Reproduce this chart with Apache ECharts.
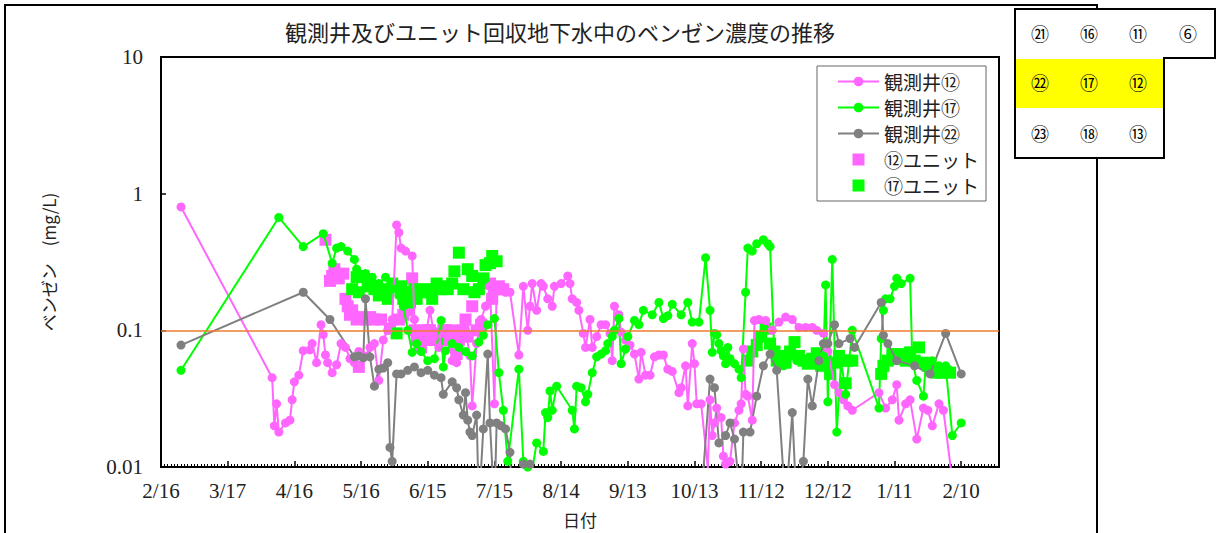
<!DOCTYPE html>
<html><head><meta charset="utf-8">
<script src="https://cdn.jsdelivr.net/npm/echarts@6/dist/echarts.min.js"></script>
<style>html,body{margin:0;padding:0;background:#fff}#c{width:1221px;height:533px}</style>
</head><body><div id="c"></div>
<script>
// ---------- data ----------
const titleText = '観測井及びユニット回収地下水中のベンゼン濃度の推移';
const xTickLabels = ['2/16','3/17','4/16','5/16','6/15','7/15','8/14','9/13','10/13','11/12','12/12','1/11','2/10'];
const yTickLabels = ['0.01','0.1','1','10'];
const seriesNames = ['観測井⑫','観測井⑰','観測井㉒','⑫ユニット','⑰ユニット'];

const w12Dates = ['2/25','4/6','4/7','4/8','4/9','4/12','4/14','4/15','4/16','4/18','4/20','4/23','4/24','4/26','4/28','4/29','4/30','5/1','5/3','5/5','5/7','5/9','5/11','5/13','5/15','5/18','5/20','5/22','5/24','5/26','5/28','5/30','6/1','6/2','6/3','6/5','6/8','6/9','6/10','6/12','6/14','6/16','6/18','6/20','6/22','6/24','6/26','6/28','6/30','7/2','7/4','7/5','7/7','7/9','7/11','7/13','7/15','7/16','7/18','7/20','7/22','7/26','7/28','7/30','7/31','8/1','8/3','8/5','8/6','8/8','8/10','8/11','8/14','8/17','8/18','8/19','8/21','8/22','8/24','8/25','8/27','8/28','8/30','9/1','9/3','9/5','9/6','9/7','9/9','9/10','9/12','9/14','9/16','9/18','9/19','9/21','9/23','9/25','9/27','9/29','10/1','10/3','10/6','10/7','10/9','10/10','10/12','10/13','10/14','10/16','10/19','10/20','10/21','10/22','10/23','10/25','10/26','10/27','10/29','10/31','11/2','11/3','11/4','11/5','11/6','11/8','11/9','11/11','11/14','11/17','11/20','11/23','11/26','11/29','12/2','12/5','12/7','12/10','12/12','12/15','12/17','12/19','12/21','12/23','1/4','1/7','1/10','1/12','1/13','1/16','1/18','1/21','1/24','1/26','1/28','1/31','2/2','2/6'];
const w12Vals = [0.80,0.045,0.020,0.029,0.018,0.021,0.022,0.031,0.042,0.047,0.071,0.072,0.080,0.058,0.11,0.093,0.066,0.058,0.049,0.056,0.080,0.075,0.062,0.058,0.07,0.065,0.075,0.08,0.043,0.085,0.1,0.12,0.59,0.52,0.40,0.38,0.35,0.12,0.085,0.1,0.09,0.14,0.09,0.075,0.095,0.1,0.06,0.058,0.085,0.1,0.065,0.028,0.08,0.12,0.15,0.21,0.029,0.2,0.21,0.19,0.19,0.066,0.21,0.1,0.15,0.22,0.14,0.22,0.21,0.17,0.15,0.21,0.22,0.25,0.22,0.17,0.16,0.14,0.095,0.075,0.12,0.075,0.09,0.11,0.11,0.095,0.06,0.15,0.13,0.097,0.085,0.078,0.067,0.044,0.069,0.047,0.047,0.064,0.066,0.066,0.052,0.05,0.035,0.038,0.055,0.028,0.08,0.057,0.029,0.029,0.0098,0.031,0.017,0.021,0.027,0.023,0.012,0.0105,0.011,0.021,0.026,0.029,0.073,0.034,0.033,0.022,0.118,0.12,0.118,0.1,0.115,0.125,0.12,0.105,0.105,0.105,0.1,0.095,0.07,0.04,0.035,0.031,0.028,0.026,0.035,0.027,0.031,0.04,0.022,0.029,0.031,0.016,0.027,0.026,0.02,0.029,0.026,0.008];

const w17Dates = ['2/25','4/9','4/20','4/29','5/3','5/5','5/7','5/10','5/13','5/14','5/18','5/21','5/24','5/27','5/30','6/2','6/4','6/6','6/8','6/10','6/12','6/15','6/18','6/21','6/22','6/23','6/26','6/29','7/2','7/5','7/8','7/10','7/12','7/15','7/17','7/19','7/21','7/26','7/28','7/30','8/1','8/3','8/6','8/7','8/8','8/9','8/10','8/12','8/19','8/20','8/21','8/23','8/25','8/26','8/28','8/30','9/1','9/3','9/4','9/6','9/7','9/9','9/10','9/12','9/13','9/16','9/18','9/20','9/24','9/27','9/29','10/1','10/3','10/7','10/10','10/12','10/15','10/18','10/20','10/21','10/22','10/23','10/24','10/25','10/26','10/27','10/28','10/29','10/31','11/2','11/3','11/5','11/6','11/8','11/10','11/13','11/15','11/16','11/18','11/20','11/22','11/25','11/28','12/1','12/4','12/7','12/10','12/11','12/12','12/14','12/16','12/18','12/20','12/23','1/4','1/5','1/6','1/7','1/9','1/11','1/12','1/14','1/18','1/19','1/21','1/24','1/25','1/28','1/31','2/3','2/6','2/10'];
const w17Vals = [0.051,0.67,0.41,0.51,0.31,0.40,0.41,0.38,0.33,0.28,0.26,0.245,0.22,0.245,0.2,0.18,0.15,0.1,0.069,0.08,0.07,0.06,0.062,0.118,0.054,0.071,0.08,0.075,0.07,0.065,0.082,0.092,0.11,0.122,0.049,0.026,0.011,0.052,0.011,0.01,0.0095,0.015,0.013,0.025,0.023,0.036,0.026,0.039,0.026,0.019,0.039,0.038,0.03,0.034,0.049,0.064,0.067,0.071,0.08,0.09,0.1,0.122,0.057,0.073,0.09,0.118,0.11,0.14,0.13,0.16,0.122,0.128,0.155,0.13,0.16,0.115,0.115,0.34,0.14,0.069,0.095,0.093,0.08,0.071,0.065,0.057,0.075,0.062,0.057,0.052,0.045,0.19,0.40,0.38,0.43,0.46,0.43,0.41,0.065,0.06,0.055,0.065,0.06,0.058,0.06,0.055,0.065,0.215,0.03,0.33,0.018,0.06,0.034,0.1,0.027,0.087,0.14,0.17,0.17,0.21,0.24,0.22,0.24,0.06,0.043,0.033,0.054,0.06,0.055,0.055,0.017,0.021];

const w22Dates = ['2/25','4/20','5/2','5/13','5/15','5/17','5/18','5/20','5/22','5/24','5/26','5/28','5/29','5/30','6/1','6/3','6/6','6/9','6/12','6/15','6/18','6/21','6/22','6/26','6/28','6/29','7/1','7/2','7/3','7/4','7/5','7/7','7/8','7/10','7/12','7/13','7/15','7/16','7/18','7/20','7/22','7/23','7/28','7/31','8/3','10/14','10/20','10/22','10/24','10/27','10/29','10/31','11/3','11/4','11/7','11/10','11/13','11/16','11/19','11/23','11/26','11/28','12/1','12/3','12/5','12/8','12/10','12/12','12/15','12/17','12/22','12/24','1/5','1/6','1/8','1/12','1/20','1/27','2/3','2/10'];
const w22Vals = [0.078,0.19,0.12,0.064,0.065,0.063,0.17,0.064,0.039,0.052,0.053,0.058,0.0139,0.011,0.048,0.048,0.051,0.054,0.049,0.051,0.047,0.045,0.034,0.042,0.038,0.031,0.024,0.035,0.022,0.018,0.017,0.024,0.005,0.019,0.067,0.021,0.005,0.021,0.02,0.019,0.0128,0.005,0.0105,0.0105,0.002,0.002,0.044,0.038,0.015,0.017,0.021,0.016,0.005,0.018,0.018,0.033,0.055,0.067,0.051,0.005,0.025,0.005,0.011,0.044,0.028,0.06,0.08,0.08,0.11,0.08,0.087,0.075,0.16,0.092,0.08,0.06,0.055,0.048,0.095,0.048];

const u12Dates = ['4/30','5/2','5/3','5/4','5/6','5/8','5/9','5/10','5/11','5/12','5/14','5/15','5/16','5/18','5/20','5/22','5/25','5/29','6/2','6/4','6/6','6/8','6/9','6/10','6/11','6/12','6/13','6/14','6/15','6/16','6/17','6/18','6/19','6/20','6/21','6/22','6/23','6/24','6/25','6/26','6/28','6/29','7/1','7/2','7/3','7/5','7/7','7/9','7/13','7/14','7/15','7/17','7/19'];
const u12Vals = [0.46,0.23,0.25,0.28,0.24,0.26,0.17,0.15,0.13,0.14,0.12,0.054,0.125,0.12,0.125,0.12,0.12,0.103,0.12,0.13,0.14,0.24,0.1,0.085,0.095,0.075,0.09,0.1,0.1,0.1,0.085,0.09,0.095,0.085,0.09,0.1,0.1,0.085,0.09,0.1,0.067,0.085,0.1,0.12,0.09,0.15,0.1,0.11,0.22,0.17,0.2,0.21,0.2];

const u17Dates = ['5/12','5/14','5/15','5/17','5/19','5/20','5/22','5/24','5/27','5/28','5/30','6/1','6/3','6/4','6/6','6/7','6/9','6/10','6/12','6/14','6/16','6/17','6/19','6/21','6/22','6/24','6/26','6/27','6/29','7/1','7/3','7/5','7/6','7/8','7/10','7/11','7/13','7/14','7/16','11/6','11/8','11/10','11/12','11/14','11/16','11/18','11/19','11/21','11/23','11/25','11/27','11/29','12/1','12/3','12/5','12/7','12/9','12/11','12/13','12/15','12/17','12/19','12/20','12/21','12/23','1/5','1/6','1/8','1/10','1/12','1/14','1/16','1/18','1/20','1/22','1/24','1/26','1/28','1/30','2/1','2/3','2/5'];
const u17Vals = [0.2,0.245,0.19,0.25,0.22,0.21,0.2,0.18,0.2,0.17,0.22,0.095,0.21,0.17,0.19,0.16,0.2,0.17,0.19,0.2,0.19,0.17,0.22,0.2,0.21,0.2,0.22,0.27,0.37,0.2,0.28,0.25,0.19,0.2,0.24,0.3,0.31,0.35,0.32,0.06,0.07,0.078,0.09,0.103,0.08,0.07,0.06,0.065,0.058,0.07,0.082,0.065,0.06,0.057,0.062,0.068,0.055,0.06,0.048,0.058,0.065,0.06,0.041,0.06,0.06,0.048,0.055,0.06,0.067,0.062,0.067,0.06,0.069,0.06,0.075,0.058,0.055,0.051,0.049,0.049,0.05,0.049];

const standardValue = 0.1;
const insetRows = [['㉑','⑯','⑪','⑥'],['㉒','⑰','⑫'],['㉓','⑱','⑬']];

// ---------- helpers ----------
const START = Date.UTC(2004, 1, 16);
function toDays(list){
  let y = 2004, pm = 0;
  return list.map(s => { const [m, d] = s.split('/').map(Number); if (m < pm) y++; pm = m; return Math.round((Date.UTC(y, m - 1, d) - START) / 86400000); });
}
function pairs(dates, vals){ const dd = toDays(dates); return dd.map((d, i) => [d, vals[i]]); }

const SERIF = "Liberation Serif, Noto Sans CJK JP, serif";
const JP = "Noto Sans CJK JP, sans-serif";
const PINK = '#FF66FF', GREEN = '#00FF00', GRAY = '#808080';

function lineSeries(name, color, data){
  return { name, type:'line', data, symbol:'circle', symbolSize:9, showAllSymbol:true,
    lineStyle:{color, width:2}, itemStyle:{color, opacity:1}, clip:true, animation:false };
}
function sqSeries(name, color, data){
  return { name, type:'scatter', data, symbol:'rect', symbolSize:12, itemStyle:{color, opacity:1}, clip:true, animation:false };
}

const chart = echarts.init(document.getElementById('c'), null, {renderer:'svg'});
const g = [];
g.push({type:'rect', shape:{x:5, y:5, width:1092, height:560}, style:{fill:'none', stroke:'#000', lineWidth:2}, z:1});
g.push({type:'text', x:560, y:31, style:{text:titleText, textAlign:'center', textVerticalAlign:'middle', font:"22px 'Noto Sans CJK JP'", fill:'#222'}, z:2});
// inset map
g.push({type:'polygon', shape:{points:[[1015,9],[1215,9],[1215,58],[1164,58],[1164,158],[1015,158]]}, style:{fill:'#fff', stroke:'#000', lineWidth:2}, z:5});
g.push({type:'rect', shape:{x:1016, y:59, width:147, height:49}, style:{fill:'#FFFF00'}, z:6});
const colX = [1040, 1089, 1138, 1188], rowY = [33, 82, 133];
insetRows.forEach((row, r) => row.forEach((t, c) => g.push({type:'text', x:colX[c], y:rowY[r], style:{text:t, textAlign:'center', textVerticalAlign:'middle', font:"18px 'Noto Sans CJK JP'", fill:'#000'}, z:7})));

const s5 = sqSeries(seriesNames[4], GREEN, pairs(u17Dates, u17Vals));
s5.markLine = {silent:true, symbol:['none','none'], label:{show:false}, lineStyle:{color:'#ED7D31', width:1.5, type:'solid'}, data:[{yAxis:standardValue}], animation:false};

chart.setOption({
  animation:false,
  backgroundColor:'#fff',
  grid:{left:161, top:57, right:222, bottom:66, show:true, borderColor:'#000', borderWidth:2, backgroundColor:'transparent'},
  legend:{orient:'vertical', left:817, top:66, padding:[6,7,6,20], itemGap:7, itemWidth:41, itemHeight:12,
    backgroundColor:'#fff', borderColor:'#666', borderWidth:1,
    textStyle:{fontFamily:JP, fontSize:19, color:'#222'},
    data:[
      {name:seriesNames[0]},{name:seriesNames[1]},{name:seriesNames[2]},
      {name:seriesNames[3], icon:'path://M0,0L10,0L10,10L0,10Z'},
      {name:seriesNames[4], icon:'path://M0,0L10,0L10,10L0,10Z'}
    ]},
  xAxis:{type:'value', min:0, max:377, interval:30,
    name:'日付', nameLocation:'middle', nameGap:44, nameTextStyle:{fontFamily:JP, fontSize:17, color:'#222'},
    axisLine:{show:true, lineStyle:{color:'#000', width:2}},
    axisTick:{show:true, inside:true, length:6, lineStyle:{color:'#000', width:1.5}},
    minorTick:{show:true, splitNumber:20, length:3, lineStyle:{color:'#000', width:1}},
    axisLabel:{fontFamily:SERIF, fontSize:21, color:'#222', margin:13, showMaxLabel:false,
      formatter:v => (v % 30 === 0 ? (xTickLabels[v / 30] || '') : '')},
    splitLine:{show:false}, minorSplitLine:{show:false}},
  yAxis:{type:'log', logBase:10, min:0.01, max:10,
    name:'ベンゼン　(mg/L)', nameLocation:'middle', nameGap:104, nameTextStyle:{fontFamily:JP, fontSize:17, color:'#222'},
    axisLine:{show:true, lineStyle:{color:'#000', width:2}},
    axisTick:{show:true, inside:true, length:5, lineStyle:{color:'#000', width:1.5}},
    axisLabel:{fontFamily:SERIF, fontSize:21, color:'#222', margin:18,
      formatter:v => yTickLabels[Math.round(Math.log10(v)) + 2] || ''},
    splitLine:{show:false}},
  graphic:g,
  series:[
    lineSeries(seriesNames[0], PINK, pairs(w12Dates, w12Vals)),
    lineSeries(seriesNames[1], GREEN, pairs(w17Dates, w17Vals)),
    lineSeries(seriesNames[2], GRAY, pairs(w22Dates, w22Vals)),
    sqSeries(seriesNames[3], PINK, pairs(u12Dates, u12Vals)),
    s5
  ]
});
</script></body></html>
